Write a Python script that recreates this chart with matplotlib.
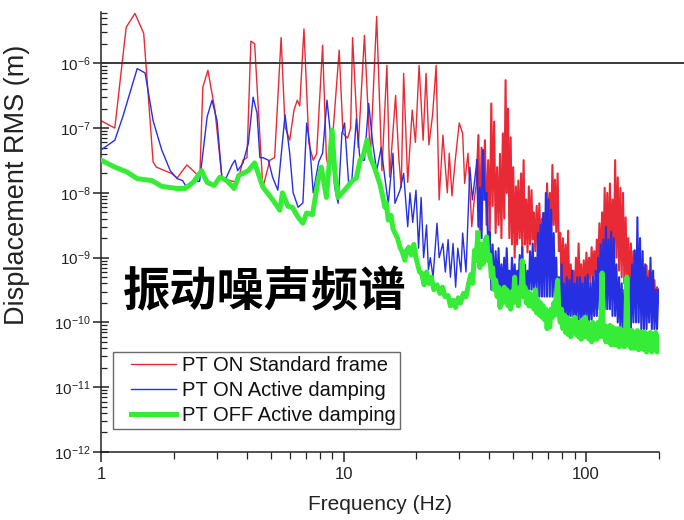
import numpy as np
import matplotlib
matplotlib.use("Agg")
import matplotlib.pyplot as plt
from matplotlib.ticker import (LogLocator, NullFormatter, FixedLocator, FixedFormatter,
                               LogFormatterSciNotation)
from matplotlib.lines import Line2D
from matplotlib.legend_handler import HandlerLine2D

plt.rcParams['font.family'] = ['Liberation Sans', 'DejaVu Sans']
plt.rcParams['mathtext.fontset'] = 'custom'
plt.rcParams['mathtext.rm'] = 'Liberation Sans'
plt.rcParams['mathtext.it'] = 'Liberation Sans:italic'
plt.rcParams['mathtext.bf'] = 'Liberation Sans:bold'
plt.rcParams['axes.unicode_minus'] = False

# ---------------- data: displacement RMS spectra (m) vs frequency (Hz) ----------------
series_labels = ["PT ON Standard frame", "PT ON Active damping", "PT OFF Active damping"]
x_tick_values = [1, 10, 100]
x_tick_labels = ["1", "10", "100"]
y_tick_values = [1e-12, 1e-11, 1e-10, 1e-9, 1e-8, 1e-7, 1e-6]

# low-frequency part, PT ON standard frame
red_freq_lo = [1.00, 1.14, 1.27, 1.38, 1.50, 1.64, 1.69, 1.95, 2.06, 2.26,
               2.50, 2.56, 2.63, 2.76, 2.95, 3.15, 3.40, 3.66, 3.85, 4.00,
               4.15, 4.30, 4.65, 4.97, 5.20, 5.53, 5.74, 6.00, 6.25, 6.45,
               6.60, 6.87, 7.20, 7.50, 7.75, 8.20, 8.50, 8.78, 9.60, 9.95,
               10.4, 10.7, 10.9, 11.5, 12.2, 12.9, 13.7, 14.4, 15.1, 15.5,
               16.4, 16.9, 17.3, 17.7, 18.4, 19.2, 19.8, 20.5, 21.3, 21.9,
               22.5, 23.3, 24.1, 24.8, 25.7, 26.8, 27.3, 28.0, 28.9, 30.0,
               31.0, 31.6, 32.6, 33.8, 34.6, 35.4]
red_lo = [1.3e-7, 1.0e-7, 3.6e-6, 5.9e-6, 2.9e-6, 3.0e-8, 2.5e-8, 2.0e-8, 1.7e-8, 2.7e-8,
          1.9e-8, 2.1e-8, 4.3e-7, 7.8e-7, 1.9e-7, 1.75e-8, 1.55e-8, 1.45e-8, 3.2e-8, 3.5e-8,
          2.2e-6, 2.0e-6, 1.2e-8, 3.2e-8, 3.5e-8, 2.5e-6, 1.05e-7, 6.5e-8, 1.9e-7, 2.7e-7,
          2.2e-7, 3.4e-6, 5.8e-8, 3.2e-8, 4.0e-8, 1.9e-6, 3.5e-8, 1.9e-8, 1.6e-6, 8.3e-8,
          7.0e-8, 1.0e-7, 2.5e-6, 5.0e-8, 2.7e-6, 3.5e-8, 5.3e-6, 2.2e-8, 9.3e-7, 1.75e-8,
          3.2e-7, 3.5e-8, 1.2e-8, 7.0e-7, 1.45e-8, 1.9e-7, 6.0e-8, 9.3e-7, 6.5e-8, 7.0e-7,
          5.5e-8, 1.6e-7, 9.3e-7, 7.8e-9, 7.8e-8, 1.0e-8, 4.1e-8, 9.0e-9, 3.2e-8, 1.2e-7,
          8.3e-8, 1.4e-8, 4.1e-8, 3.0e-9, 7.8e-9, 1.5e-8]

# low-frequency part, PT ON active damping
blue_freq_lo = [1.00, 1.14, 1.23, 1.41, 1.52, 1.64, 1.78, 1.93, 2.06, 2.17,
                2.26, 2.45, 2.55, 2.74, 2.87, 3.01, 3.15, 3.28, 3.47, 3.57,
                3.66, 3.85, 4.05, 4.24, 4.40, 4.52, 4.65, 4.90, 5.10, 5.36,
                5.74, 6.00, 6.20, 6.50, 6.80, 7.05, 7.25, 7.50, 7.90, 8.20,
                8.55, 8.95, 9.20, 9.50, 9.85, 10.1, 10.5, 10.8, 11.3, 11.7,
                12.2, 12.7, 13.2, 13.7, 14.3, 14.8, 15.3, 16.0, 16.3, 17.1,
                17.7, 18.4, 18.8, 19.3, 19.9, 20.4, 20.9, 21.4, 22.0, 22.4,
                22.8, 23.4, 24.3, 24.8, 25.7, 26.3, 27.0, 27.6, 28.3, 29.0,
                29.6, 30.5, 31.0, 32.0, 33.2, 34.0, 35.5]
blue_lo = [4.6e-8, 6.5e-8, 1.5e-7, 8.3e-7, 7.1e-7, 1.3e-7, 4.6e-8, 2.2e-8, 1.66e-8, 1.55e-8,
           1.2e-8, 1.55e-8, 1.5e-8, 1.5e-7, 2.7e-7, 1.3e-7, 1.75e-8, 1.7e-8, 2.7e-8, 3.2e-8,
           2.2e-8, 2.9e-8, 5.8e-8, 3.0e-7, 1.7e-7, 3.5e-8, 3.5e-8, 3.2e-8, 1.75e-8, 1.1e-8,
           1.6e-7, 4.1e-8, 1.0e-8, 6.0e-9, 7.0e-9, 1.2e-7, 5.8e-8, 1.0e-8, 3.0e-8, 4.1e-8,
           2.7e-7, 5.0e-8, 1.2e-8, 6.9e-9, 8.3e-8, 1.2e-7, 1.4e-8, 1.4e-8, 1.4e-7, 3.2e-8,
           3.2e-8, 2.4e-7, 5.8e-8, 2.2e-8, 5.0e-8, 1.74e-8, 6.9e-9, 4.1e-8, 6.9e-9, 1.1e-8,
           2.0e-8, 3.0e-9, 1.0e-8, 3.5e-9, 1.1e-8, 1.4e-9, 8.5e-9, 1.0e-9, 3.2e-9, 6.5e-10,
           1.0e-9, 5.0e-10, 3.4e-9, 1.0e-9, 1.66e-9, 6.0e-10, 1.9e-9, 5.0e-10, 1.66e-9, 3.5e-10,
           1.4e-9, 6.0e-10, 2.4e-9, 6.0e-10, 2.5e-8, 7.8e-9, 3.2e-8]

# low-frequency part, PT OFF active damping
green_freq_lo = [1.00, 1.14, 1.28, 1.41, 1.62, 1.78, 2.06, 2.22, 2.40, 2.60,
                 2.74, 2.93, 3.09, 3.30, 3.54, 3.70, 4.05, 4.30, 4.65, 5.11,
                 5.46, 5.60, 5.90, 6.15, 6.50, 6.80, 7.05, 7.45, 7.85, 8.10,
                 8.50, 8.97, 9.20, 9.50, 9.85, 10.1, 10.9, 11.3, 11.7, 12.1,
                 12.5, 12.9, 13.4, 14.1, 14.5, 14.8, 15.0, 15.3, 15.7, 16.0,
                 16.3, 16.7, 17.1, 17.5, 17.9, 18.2, 18.6, 19.0, 19.5, 19.9,
                 20.2, 20.6, 21.0, 21.5, 22.0, 22.5, 23.0, 23.6, 24.3, 25.0,
                 25.6, 26.2, 27.0, 27.6, 28.3, 29.0, 29.7, 30.4, 31.2, 32.0,
                 32.8, 33.5, 34.1, 34.7, 35.2, 35.8]
green_lo = [3.2e-8, 2.5e-8, 2.1e-8, 1.66e-8, 1.55e-8, 1.26e-8, 1.17e-8, 1.17e-8, 1.45e-8, 2.2e-8,
            1.45e-8, 1.3e-8, 1.74e-8, 1.55e-8, 1.17e-8, 1.86e-8, 2.2e-8, 2.9e-8, 1.23e-8, 7.8e-9,
            5.4e-9, 1.0e-8, 6.2e-9, 6.0e-9, 4.2e-9, 3.4e-9, 4.9e-9, 4.6e-9, 1.55e-8, 2.5e-8,
            8.5e-9, 9.3e-8, 2.2e-8, 8.5e-9, 1.0e-8, 1.1e-8, 1.55e-8, 1.7e-8, 3.2e-8, 3.9e-8,
            6.5e-8, 3.5e-8, 2.5e-8, 1.4e-8, 9.0e-9, 6.0e-9, 7.0e-9, 3.8e-9, 4.5e-9, 2.8e-9,
            2.4e-9, 2.0e-9, 1.45e-9, 1.2e-9, 9.1e-10, 1.3e-9, 1.45e-9, 1.1e-9, 1.6e-9, 1.0e-9,
            8.0e-10, 6.0e-10, 5.8e-10, 3.8e-10, 6.0e-10, 4.0e-10, 5.0e-10, 3.2e-10, 3.8e-10, 2.8e-10,
            3.5e-10, 2.5e-10, 2.6e-10, 1.8e-10, 2.2e-10, 1.7e-10, 2.4e-10, 2.0e-10, 2.8e-10, 2.5e-10,
            4.0e-10, 5.5e-10, 4.0e-10, 1.3e-9, 9.0e-10, 2.4e-9]

# high-frequency part, shared frequency bins (36 - 200 Hz)
freq_hi = [36.0, 36.5, 37.1, 37.6, 38.3, 38.9, 39.5, 40.1, 40.7, 41.2,
           41.8, 42.4, 43.0, 43.6, 44.2, 44.8, 45.4, 46.0, 46.6, 47.1,
           47.7, 48.3, 48.9, 49.5, 50.1, 50.8, 51.4, 52.0, 52.6, 53.3,
           54.0, 54.6, 55.3, 56.0, 56.7, 57.4, 58.1, 58.8, 59.6, 60.3,
           61.0, 61.8, 62.6, 63.4, 64.2, 65.0, 65.8, 66.6, 67.4, 68.3,
           69.1, 70.0, 70.9, 71.8, 72.7, 73.6, 74.5, 75.4, 76.4, 77.3,
           78.3, 79.3, 80.3, 81.3, 82.3, 83.3, 84.4, 85.4, 86.5, 87.6,
           88.7, 89.8, 90.9, 92.0, 93.2, 94.4, 95.5, 96.7, 97.9, 99.2,
           100.4, 101.6, 102.9, 104.2, 105.5, 106.8, 108.1, 109.5, 110.8, 112.2,
           113.6, 115.0, 116.5, 117.9, 119.4, 120.9, 122.4, 123.9, 125.5, 127.0,
           128.6, 130.2, 131.9, 133.5, 135.2, 136.9, 138.6, 140.3, 142.1, 143.9,
           145.7, 147.5, 149.3, 151.2, 153.1, 155.0, 156.9, 158.9, 160.9, 162.9,
           164.9, 167.0, 169.1, 171.2, 173.3, 175.5, 177.7, 179.9, 182.2, 184.5,
           186.8, 189.1, 191.5, 193.9, 196.3, 198.7, 200.0]
red_hi = [7.8e-8, 2.5e-9, 5.0e-8, 7.8e-9, 6.5e-8, 3.2e-9, 3.2e-8, 2.5e-9, 2.4e-7, 6.3e-9,
          1.26e-7, 2.4e-9, 2.5e-8, 3.2e-9, 4.0e-8, 2.0e-9, 8.3e-8, 4.0e-9, 5.5e-7, 1.0e-8,
          2.0e-7, 2.0e-9, 7.2e-8, 1.6e-9, 2.5e-8, 1.0e-9, 1.26e-8, 1.6e-9, 1.55e-8, 2.0e-9,
          2.0e-8, 1.26e-9, 3.2e-8, 1.6e-9, 7.9e-9, 1.2e-9, 1.26e-8, 1.6e-9, 1.1e-8, 1.9e-9,
          5.0e-9, 1.26e-9, 6.3e-9, 1.4e-9, 6.9e-9, 1.26e-9, 4.0e-9, 1.1e-9, 4.9e-9, 1.6e-9,
          1.4e-8, 2.5e-9, 1.0e-8, 2.0e-9, 2.7e-8, 3.2e-9, 1.6e-8, 2.5e-9, 2.0e-8, 1.26e-9,
          2.4e-9, 4.0e-10, 2.0e-9, 3.2e-10, 1.6e-9, 3.2e-10, 2.6e-9, 2.5e-10, 7.9e-10, 2.5e-10,
          6.3e-10, 2.0e-10, 1.0e-9, 2.5e-10, 1.66e-9, 3.2e-10, 7.9e-10, 2.5e-10, 9.1e-10, 3.2e-10,
          1.2e-9, 4.0e-10, 1.0e-9, 4.0e-10, 1.45e-9, 5.0e-10, 1.26e-9, 5.0e-10, 1.9e-9, 6.3e-10,
          3.4e-9, 6.3e-10, 5.0e-9, 7.9e-10, 1.2e-8, 1.0e-9, 1.0e-8, 7.9e-10, 1.4e-8, 1.0e-9,
          7.9e-9, 7.9e-10, 3.2e-8, 1.0e-9, 1.74e-8, 6.3e-10, 1.2e-8, 5.0e-10, 1.0e-8, 4.0e-10,
          4.2e-9, 4.0e-10, 2.0e-9, 3.2e-10, 1.66e-9, 2.5e-10, 1.26e-9, 2.5e-10, 1.0e-9, 2.0e-10,
          6.5e-10, 2.0e-10, 7.9e-10, 2.0e-10, 7.1e-10, 2.0e-10, 7.6e-10, 2.0e-10, 6.3e-10, 2.0e-10,
          5.8e-10, 1.6e-10, 4.5e-10, 1.6e-10, 3.5e-10, 2.0e-10, 3.2e-10]
blue_hi = [3.0e-9, 1.2e-8, 2.0e-9, 4.6e-8, 7.8e-9, 1.0e-8, 1.6e-9, 2.5e-9, 3.2e-10, 1.6e-9,
           3.2e-10, 1.26e-9, 3.2e-10, 1.4e-9, 2.5e-10, 7.9e-10, 3.2e-10, 1.0e-9, 2.5e-10, 1.4e-9,
           3.2e-10, 6.3e-10, 2.5e-10, 1.0e-9, 3.2e-10, 7.9e-10, 2.5e-10, 6.3e-10, 3.2e-10, 1.1e-9,
           3.2e-10, 1.45e-9, 3.2e-10, 7.9e-10, 2.5e-10, 6.3e-10, 3.2e-10, 1.26e-9, 3.2e-10, 1.66e-9,
           3.2e-10, 1.0e-9, 3.2e-10, 2.4e-9, 2.5e-10, 3.2e-9, 2.5e-10, 4.9e-9, 2.5e-10, 1.0e-8,
           2.5e-10, 7.9e-9, 2.5e-10, 5.5e-9, 2.5e-10, 2.4e-9, 2.0e-10, 1.0e-9, 1.26e-10, 5.0e-10,
           1.1e-10, 7.9e-10, 1.0e-10, 4.0e-10, 1.26e-10, 5.0e-10, 1.0e-10, 4.5e-10, 1.26e-10, 6.3e-10,
           1.0e-10, 4.0e-10, 1.26e-10, 5.0e-10, 1.0e-10, 5.0e-10, 1.1e-10, 4.0e-10, 1.0e-10, 5.0e-10,
           1.1e-10, 5.5e-10, 1.0e-10, 4.0e-10, 1.1e-10, 5.0e-10, 1.26e-10, 6.3e-10, 1.26e-10, 1.0e-9,
           1.6e-10, 1.6e-9, 1.6e-10, 1.9e-9, 1.6e-10, 3.0e-9, 1.6e-10, 1.9e-9, 1.6e-10, 2.5e-9,
           1.26e-10, 2.0e-9, 1.26e-10, 7.9e-10, 1.0e-10, 5.0e-10, 7.9e-11, 4.0e-10, 7.9e-11, 3.2e-10,
           6.3e-11, 2.5e-10, 7.9e-11, 5.0e-10, 7.9e-11, 7.9e-10, 1.0e-10, 1.3e-9, 1.0e-10, 4.2e-9,
           1.0e-10, 2.0e-9, 7.9e-11, 1.26e-9, 7.9e-11, 7.9e-10, 7.9e-11, 5.0e-10, 1.0e-10, 1.0e-9,
           7.9e-11, 6.3e-10, 7.9e-11, 3.2e-10, 7.9e-11, 3.2e-10, 2.0e-10]
green_hi = [1.4e-9, 7.0e-10, 1.6e-9, 8.0e-10, 1.8e-9, 2.1e-9, 9.0e-10, 1.1e-9, 5.0e-10, 7.0e-10,
            3.2e-10, 4.5e-10, 2.5e-10, 3.5e-10, 1.7e-10, 3.0e-10, 2.0e-10, 3.5e-10, 2.2e-10, 3.2e-10,
            1.8e-10, 2.8e-10, 1.6e-10, 3.0e-10, 2.0e-10, 5.0e-10, 2.2e-10, 3.0e-10, 1.8e-10, 3.5e-10,
            2.5e-10, 9.0e-10, 2.5e-10, 3.5e-10, 2.0e-10, 3.0e-10, 1.8e-10, 2.8e-10, 1.8e-10, 2.5e-10,
            1.6e-10, 3.2e-10, 1.4e-10, 2.2e-10, 1.3e-10, 2.0e-10, 1.2e-10, 1.8e-10, 1.1e-10, 1.6e-10,
            8.0e-11, 1.3e-10, 8.5e-11, 1.6e-10, 1.2e-10, 2.0e-10, 1.3e-10, 2.5e-10, 4.5e-10, 1.5e-10,
            1.0e-10, 1.6e-10, 8.0e-11, 1.3e-10, 7.0e-11, 1.2e-10, 6.5e-11, 1.1e-10, 6.0e-11, 1.1e-10,
            7.0e-11, 1.2e-10, 6.5e-11, 1.0e-10, 6.0e-11, 1.0e-10, 5.5e-11, 1.1e-10, 6.0e-11, 1.2e-10,
            6.0e-11, 1.0e-10, 5.5e-11, 9.0e-11, 5.0e-11, 1.0e-10, 5.5e-11, 9.0e-11, 5.5e-11, 1.0e-10,
            6.0e-11, 9.0e-11, 5.8e-10, 6.0e-11, 9.0e-11, 5.0e-11, 8.5e-11, 5.0e-11, 9.0e-11, 4.5e-11,
            8.5e-11, 4.5e-11, 8.0e-11, 4.5e-11, 8.0e-11, 4.2e-11, 8.0e-11, 4.5e-11, 7.5e-11, 4.2e-11,
            8.0e-11, 5.0e-10, 4.5e-11, 7.5e-11, 4.0e-11, 7.5e-11, 4.0e-11, 7.0e-11, 4.0e-11, 7.5e-11,
            3.8e-11, 7.0e-11, 4.0e-11, 7.0e-11, 3.8e-11, 7.0e-11, 3.5e-11, 6.5e-11, 3.8e-11, 7.0e-11,
            3.5e-11, 6.5e-11, 3.8e-11, 7.0e-11, 3.5e-11, 6.0e-11, 5.0e-11]

reference_level = 1e-6

RED = '#e82a36'
BLUE = '#2630e2'
GREEN = '#36ec36'

# ---------------- figure ----------------
W, H = 684, 520
fig = plt.figure(figsize=(W / 100, H / 100), dpi=100)
ax = fig.add_axes([101 / W, 1 - 452 / H, 558 / W, 440 / H])


def draw_spectrum(f_lo, v_lo, v_hi, color, lw_lo, lw_hi, z):
    # sparse low-frequency part with a thin line, dense high-frequency part a bit heavier
    ax.plot(f_lo, v_lo, color=color, lw=lw_lo, zorder=z, solid_joinstyle='round')
    ax.plot(f_lo[-1:] + freq_hi, v_lo[-1:] + v_hi, color=color, lw=lw_hi, zorder=z,
            solid_joinstyle='round')


draw_spectrum(red_freq_lo, red_lo, red_hi, RED, 1.0, 1.5, 2)
draw_spectrum(blue_freq_lo, blue_lo, blue_hi, BLUE, 1.0, 1.5, 3)
draw_spectrum(green_freq_lo, green_lo, green_hi, GREEN, 3.6, 3.6, 4)

ax.set_xscale('log')
ax.set_yscale('log')
ax.set_xlim(1, 200)
ax.set_ylim(1e-12, 6.2e-6)

# horizontal reference line, running past the right end of the frequency axis
ax.axhline(reference_level, xmin=0, xmax=(W - 101) / 558, color='#3a3a3a', lw=1.4,
           clip_on=False, zorder=5)

for side in ('top', 'right'):
    ax.spines[side].set_visible(False)
for side in ('left', 'bottom'):
    ax.spines[side].set_color('#222222')
    ax.spines[side].set_linewidth(1.1)

ax.xaxis.set_major_locator(FixedLocator(x_tick_values))
ax.xaxis.set_major_formatter(FixedFormatter(x_tick_labels))
ax.xaxis.set_minor_locator(LogLocator(base=10, subs=np.arange(2, 10)))
ax.xaxis.set_minor_formatter(NullFormatter())
ax.yaxis.set_major_locator(FixedLocator(y_tick_values))
ax.yaxis.set_major_formatter(LogFormatterSciNotation())
ax.yaxis.set_minor_locator(LogLocator(base=10, subs=np.arange(2, 10), numticks=20))
ax.yaxis.set_minor_formatter(NullFormatter())

ax.tick_params(axis='x', which='major', direction='out', length=7, width=1.1,
               labelsize=12, pad=4, colors='#222222')
ax.tick_params(axis='x', which='minor', direction='out', length=5, width=0.9, colors='#222222')
ax.tick_params(axis='y', which='major', direction='inout', length=11, width=1.1,
               labelsize=11, pad=2, colors='#222222')
ax.tick_params(axis='y', which='minor', direction='in', length=4.5, width=0.9, colors='#222222')

ax.set_xlabel('Frequency (Hz)', fontsize=15, color='#222222')
ax.xaxis.set_label_coords(0.5, -0.098)
ax.set_ylabel('Displacement RMS (m)', fontsize=19.5, color='#222222')
ax.yaxis.set_label_coords(-0.128, 0.607)


class InsetLineHandler(HandlerLine2D):
    # legend sample line drawn in the right part of its handle box
    def create_artists(self, legend, orig_handle, xdescent, ydescent, width, height,
                       fontsize, trans):
        artists = super().create_artists(legend, orig_handle, xdescent, ydescent,
                                         width, height, fontsize, trans)
        line = artists[0]
        xd = np.asarray(line.get_xdata(), dtype=float)
        yd = np.asarray(line.get_ydata(), dtype=float)
        x0, x1 = xd[0], xd[-1]
        line.set_data([x0 + 0.24 * (x1 - x0), x1], [yd[0], yd[-1]])
        return artists


handles = [Line2D([], [], color=RED, lw=1.0),
           Line2D([], [], color=BLUE, lw=1.0),
           Line2D([], [], color=GREEN, lw=3.6)]
leg = fig.legend(handles, series_labels, loc='upper left',
                 bbox_to_anchor=(113 / W, 1 - 352 / H), bbox_transform=fig.transFigure,
                 fontsize=14.5, frameon=True, fancybox=False, shadow=False,
                 handlelength=2.95, handletextpad=0.3, borderpad=0.2,
                 labelspacing=0.3, borderaxespad=0,
                 handler_map={Line2D: InsetLineHandler()})
leg.get_frame().set_edgecolor('#444444')
leg.get_frame().set_linewidth(1.0)
for t in leg.get_texts():
    t.set_color('#111111')

fig.text(265 / W, 1 - 292 / H, '振动噪声频谱', fontsize=34, fontweight='bold',
         family=['Noto Sans CJK SC', 'DejaVu Sans'], ha='center', va='center', color='black')

fig.savefig('out.png', dpi=100, facecolor='white')
